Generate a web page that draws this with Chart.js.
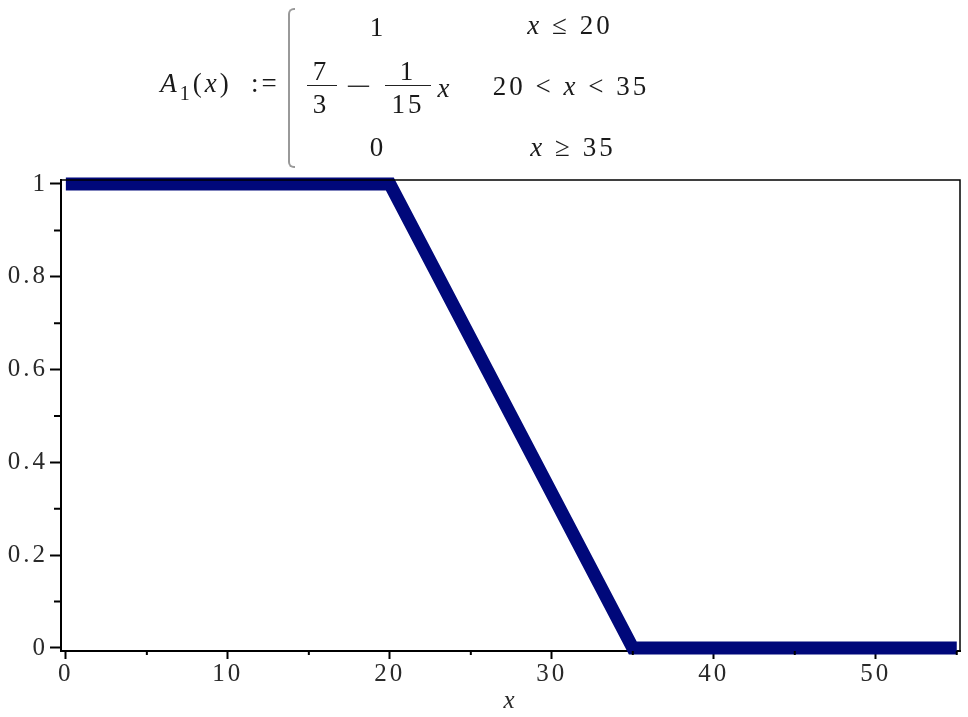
<!DOCTYPE html>
<html>
<head>
<meta charset="utf-8">
<script src="https://cdn.jsdelivr.net/npm/chart.js"></script>
<style>
  body { margin: 0; background: #fff; }
  #wrap { position: relative; width: 968px; height: 717px; }
  .f { position: absolute; transform: translate(-50%, -50%); font-family: "Liberation Serif", "Times New Roman", Times, serif;
       font-size: 27px; line-height: 1; color: #1a1a1a; white-space: nowrap; letter-spacing: 3px; }
  .bar { position: absolute; height: 0; border-top: 1.5px solid #222; }
  .brace { position: absolute; left: 288px; top: 8px; width: 5px; height: 156px;
           border-left: 2px solid #999; border-top: 2px solid #999; border-bottom: 2px solid #999;
           border-radius: 6px 0 0 6px; }
  i { font-style: italic; }
  sub { font-size: 20px; vertical-align: -8px; }
</style>
</head>
<body>
<div id="wrap">
  <canvas id="chart"></canvas>
  <!-- piecewise definition above the plot -->
  <div class="f" style="left:220px;top:86px"><i>A</i><sub>1</sub>(<i>x</i>)&nbsp; :=</div>
  <div class="brace"></div>
  <div class="f" style="left:378px;top:27px">1</div>
  <div class="f" style="left:570px;top:25px"><i>x</i> ≤ 20</div>
  <div class="f" style="left:321px;top:71px">7</div>
  <div class="bar" style="left:307px;top:85px;width:30px"></div>
  <div class="f" style="left:321px;top:104px">3</div>
  <div class="f" style="left:361px;top:86px;transform:translate(-50%,-50%) scaleX(1.7)">−</div>
  <div class="f" style="left:408px;top:71px">1</div>
  <div class="bar" style="left:385px;top:85px;width:46px"></div>
  <div class="f" style="left:408px;top:104px">15</div>
  <div class="f" style="left:445px;top:88px"><i>x</i></div>
  <div class="f" style="left:571px;top:86px">20 &lt; <i>x</i> &lt; 35</div>
  <div class="f" style="left:378px;top:147px">0</div>
  <div class="f" style="left:573px;top:147px"><i>x</i> ≥ 35</div>
</div>
<script>
// breakpoints of A1(x)
const xValues = [0, 20, 35, 55];
const yValues = [1, 1, 0, 0];

const xTickValues = [0, 10, 20, 30, 40, 50];
const yTickValues = [0, 0.2, 0.4, 0.6, 0.8, 1];
const xMinorValues = [5, 15, 25, 35, 45, 55];
const yMinorValues = [0.1, 0.3, 0.5, 0.7, 0.9];

const points = xValues.map((x, i) => ({ x: x, y: yValues[i] }));

// top/right frame and minor tick marks
const framePlugin = {
  id: 'frame',
  beforeDraw(chart) {
    chart.ctx.letterSpacing = '3px'; // the tick labels are spaced out
  },
  afterDraw(chart) {
    const { ctx, chartArea: a, scales } = chart;
    ctx.save();
    ctx.strokeStyle = '#000';
    ctx.lineWidth = 1.5;
    ctx.beginPath();
    ctx.moveTo(a.left, a.top);
    ctx.lineTo(a.right, a.top);
    ctx.lineTo(a.right, a.bottom);
    ctx.stroke();

    ctx.lineWidth = 2;
    ctx.beginPath();
    xMinorValues.forEach(v => {
      const px = scales.x.getPixelForValue(v);
      ctx.moveTo(px, a.bottom);
      ctx.lineTo(px, a.bottom + 4);
    });
    yMinorValues.forEach(v => {
      const py = scales.y.getPixelForValue(v);
      ctx.moveTo(a.left, py);
      ctx.lineTo(a.left - 7, py);
    });
    ctx.stroke();
    ctx.restore();
  }
};

const serif = '"Liberation Serif", "Times New Roman", Times, serif';
const tickFont = { family: serif, size: 25 };

new Chart(document.getElementById('chart'), {
  type: 'line',
  data: {
    datasets: [{
      data: points,
      borderColor: '#00087a',
      borderWidth: 13,
      pointRadius: 0,
      tension: 0,
      fill: false,
      clip: false
    }]
  },
  options: {
    responsive: true,
    maintainAspectRatio: false,
    animation: false,
    layout: { padding: { top: 180, right: 8, left: 0, bottom: 0 } },
    plugins: { legend: { display: false }, tooltip: { enabled: false } },
    scales: {
      x: {
        type: 'linear',
        min: -0.3,
        max: 55.2,
        afterBuildTicks: s => { s.ticks = xTickValues.map(v => ({ value: v })); },
        afterFit: s => { s.height = 66; },
        border: { color: '#000', width: 2 },
        grid: { drawOnChartArea: false, tickLength: 8, tickColor: '#000', tickWidth: 2 },
        ticks: { font: tickFont, color: '#2a2a2a', padding: 0, maxRotation: 0 },
        title: { display: true, text: 'x', font: { family: serif, size: 25, style: 'italic' },
                 color: '#2a2a2a', padding: { top: 0, bottom: 1 } }
      },
      y: {
        min: -0.0065,
        max: 1.0086,
        afterBuildTicks: s => { s.ticks = yTickValues.map(v => ({ value: v })); },
        afterFit: s => { s.width = 61; },
        border: { color: '#000', width: 2 },
        grid: { drawOnChartArea: false, tickLength: 11, tickColor: '#000', tickWidth: 2 },
        ticks: { font: tickFont, color: '#2a2a2a', padding: 2, callback: v => String(v) }
      }
    }
  },
  plugins: [framePlugin]
});
</script>
</body>
</html>
